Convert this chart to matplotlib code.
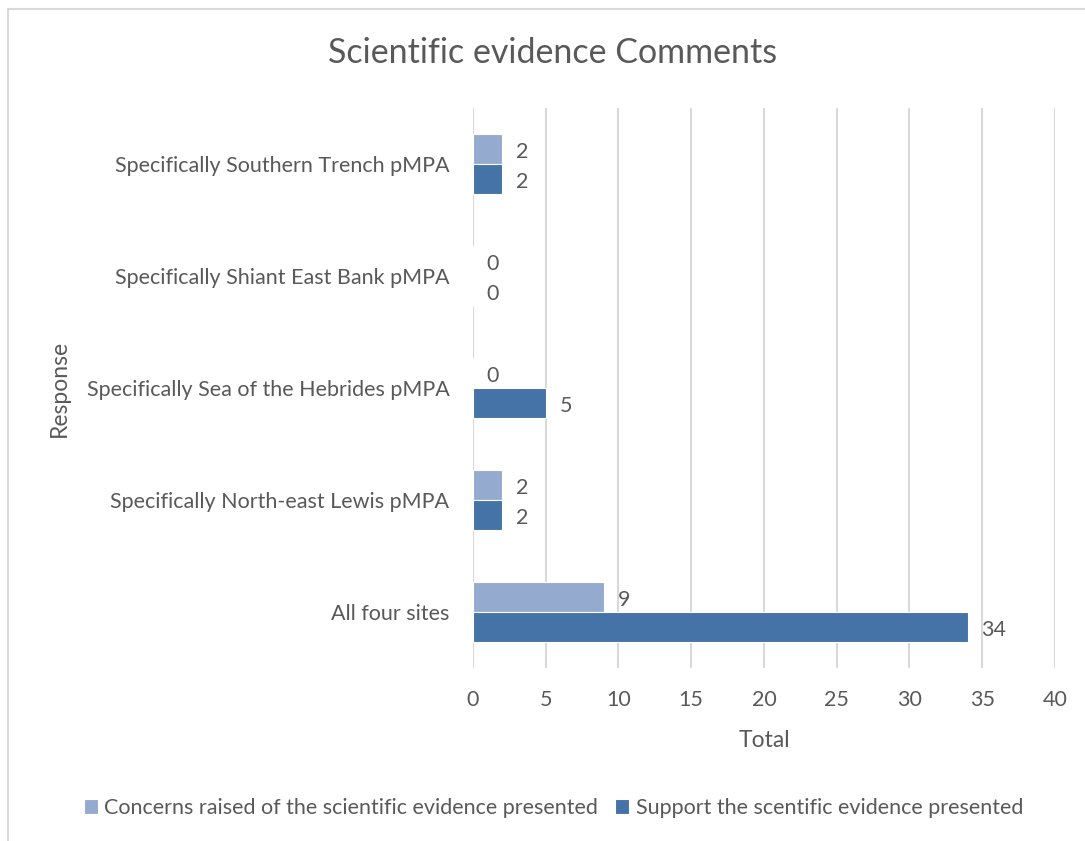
import matplotlib
matplotlib.use('Agg')
import matplotlib.pyplot as plt
import numpy as np
from matplotlib.patches import Rectangle

plt.rcParams['font.family'] = ['Lato', 'DejaVu Sans']

categories = ['All four sites', 'Specifically North-east Lewis pMPA',
              'Specifically Sea of the Hebrides pMPA', 'Specifically Shiant East Bank pMPA',
              'Specifically Southern Trench pMPA']
concerns = [9, 2, 0, 0, 2]
support = [34, 2, 5, 0, 2]
series_names = ['Concerns raised of the scientific evidence presented',
                'Support the scentific evidence presented']
xticks = [0, 5, 10, 15, 20, 25, 30, 35, 40]

text_col = '#595959'
c_light = '#95AACF'
c_dark = '#4572A7'

fig = plt.figure(figsize=(10.85, 8.41), dpi=100)
ax = fig.add_axes([0.4359, 0.2057, 0.5364, 0.6659])

# chart border (runs off the right/bottom edge like the screenshot)
fig.patches.append(Rectangle((8 / 1085, -0.01), 1.1, 1 - 9 / 841 + 0.01, transform=fig.transFigure,
                             fill=False, edgecolor='#D9D9D9', linewidth=1.5))

y = np.arange(len(categories))
h = 0.265
b1 = ax.barh(y + h / 2, concerns, height=h, color=c_light, edgecolor='white', linewidth=0.8,
             label=series_names[0], zorder=3)
b2 = ax.barh(y - h / 2, support, height=h, color=c_dark, edgecolor='white', linewidth=0.8,
             label=series_names[1], zorder=3)

for bars, vals in [(b1, concerns), (b2, support)]:
    for bar, v in zip(bars, vals):
        ax.annotate(str(v), (v, bar.get_y() + bar.get_height() / 2), xytext=(10, -2),
                    textcoords='offset points', ha='left', va='center', fontsize=15.5, color=text_col)

ax.set_xlim(0, 40)
ax.set_ylim(-0.5, 4.5)
ax.set_xticks(xticks)
ax.set_yticks(y)
ax.set_yticklabels(categories)
ax.grid(axis='x', color='#D9D9D9', linewidth=1.5, zorder=0)
ax.tick_params(length=0, labelsize=15.5, labelcolor=text_col)
ax.tick_params(axis='x', pad=16)
ax.tick_params(axis='y', pad=17)
for s in ax.spines.values():
    s.set_visible(False)

ax.set_xlabel('Total', fontsize=16.5, color=text_col)
ax.xaxis.set_label_coords(0.5, -0.11)
ax.set_ylabel('Response', fontsize=16.5, color=text_col, va='center')
ax.yaxis.set_label_coords(-0.71, 0.5)
fig.text(0.509, 0.937, 'Scientific evidence Comments', ha='center', va='center', fontsize=24.5, color=text_col)

fig.legend(handles=[b1, b2], loc='center', bbox_to_anchor=(0.51, 0.039), ncol=2, frameon=False,
           fontsize=15.5, labelcolor=text_col, handlelength=0.65, handleheight=0.65, handletextpad=0.3,
           columnspacing=0.8)

fig.savefig('out.png', dpi=100, facecolor='white')
